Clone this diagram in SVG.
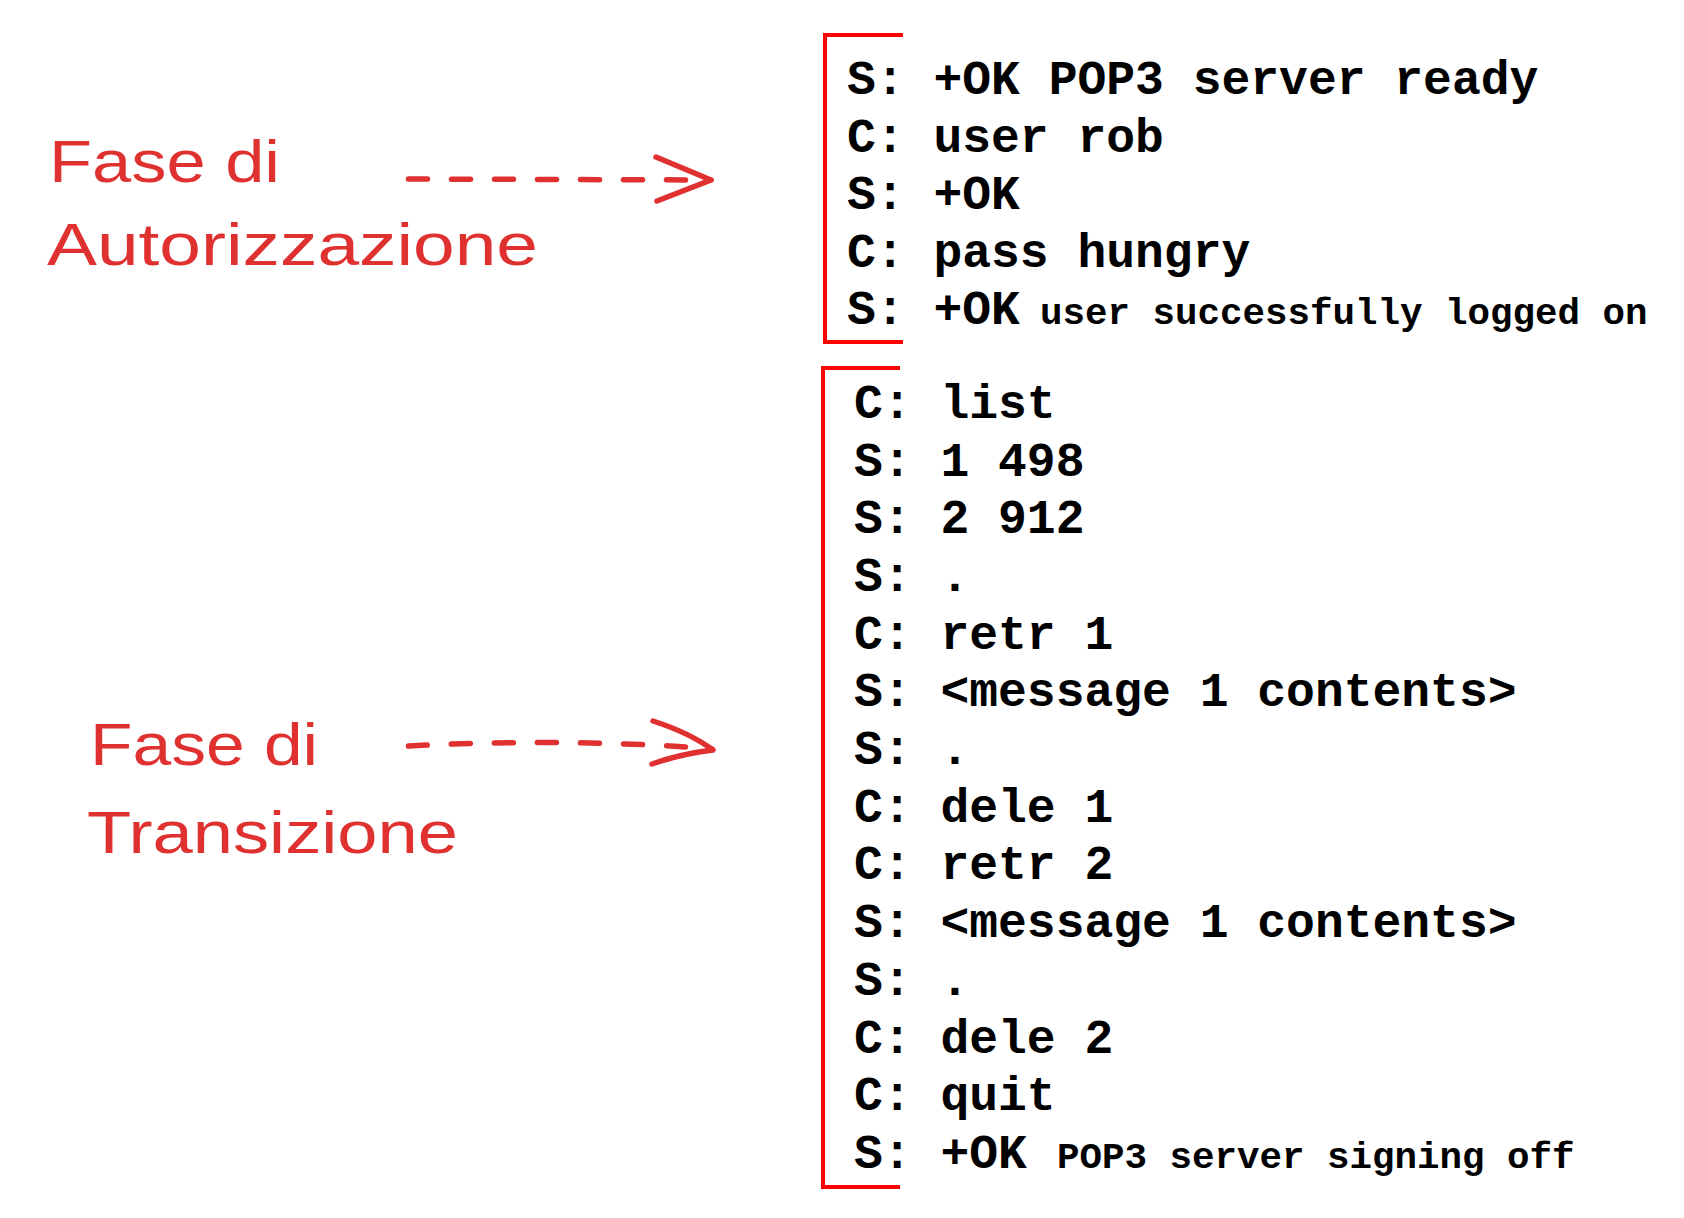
<svg xmlns="http://www.w3.org/2000/svg" width="1684" height="1218" viewBox="0 0 1684 1218">
  <style>
    .mono { font-family: "Liberation Mono", "Courier New", monospace; font-weight: bold; font-size: 48px; fill: #000000; }
    .small { font-size: 37.5px; }
    .hand { font-family: "Liberation Sans", Arial, sans-serif; font-size: 60px; fill: #e03131; }
    .bracket { fill: none; stroke: #ff0000; stroke-width: 4; stroke-linejoin: miter; }
    .dash { fill: none; stroke: #e03131; stroke-width: 5.5; stroke-linecap: round; stroke-dasharray: 19 24; }
    .head { fill: none; stroke: #e03131; stroke-width: 5.5; stroke-linecap: round; stroke-linejoin: round; }
  </style>
  <rect width="1684" height="1218" fill="#ffffff"/>

  <g id="label-autorizzazione">
    <text class="hand" x="49" y="182" textLength="231" lengthAdjust="spacingAndGlyphs">Fase di</text>
    <text class="hand" x="47" y="265" textLength="491" lengthAdjust="spacingAndGlyphs">Autorizzazione</text>
  </g>

  <g id="label-transizione">
    <text class="hand" x="90" y="765" textLength="228" lengthAdjust="spacingAndGlyphs">Fase di</text>
    <text class="hand" x="87" y="853" textLength="371" lengthAdjust="spacingAndGlyphs">Transizione</text>
  </g>

  <g id="block-autorizzazione">
    <path class="bracket" d="M903,35 H825 V342 H903"/>
    <text class="mono" x="847" y="94">S: +OK POP3 server ready</text>
    <text class="mono" x="847" y="152">C: user rob</text>
    <text class="mono" x="847" y="209">S: +OK</text>
    <text class="mono" x="847" y="267">C: pass hungry</text>
    <text class="mono" x="847" y="324">S: +OK<tspan class="small" x="1040">user successfully logged on</tspan></text>
  </g>

  <g id="block-transizione">
    <path class="bracket" d="M900,368 H823 V1187 H900"/>
    <text class="mono" x="854" y="418">C: list</text>
    <text class="mono" x="854" y="476">S: 1 498</text>
    <text class="mono" x="854" y="533">S: 2 912</text>
    <text class="mono" x="854" y="591">S: .</text>
    <text class="mono" x="854" y="649">C: retr 1</text>
    <text class="mono" x="854" y="706">S: &lt;message 1 contents&gt;</text>
    <text class="mono" x="854" y="764">S: .</text>
    <text class="mono" x="854" y="822">C: dele 1</text>
    <text class="mono" x="854" y="879">C: retr 2</text>
    <text class="mono" x="854" y="937">S: &lt;message 1 contents&gt;</text>
    <text class="mono" x="854" y="995">S: .</text>
    <text class="mono" x="854" y="1053">C: dele 2</text>
    <text class="mono" x="854" y="1110">C: quit</text>
    <text class="mono" x="854" y="1168">S: +OK<tspan class="small" x="1057">POP3 server signing off</tspan></text>
  </g>

  <g id="connectors">
    <g id="arrow-autorizzazione">
      <path class="dash" d="M408.5,179 L711,180"/>
      <path class="head" d="M656,157 L711,180 L657,201"/>
    </g>
    <g id="arrow-transizione">
      <path class="dash" d="M408.5,746 C500,741 620,741 712,749"/>
      <path class="head" d="M653,721 Q690,733 713,750 Q680,754 652,764"/>
    </g>
  </g>
</svg>
